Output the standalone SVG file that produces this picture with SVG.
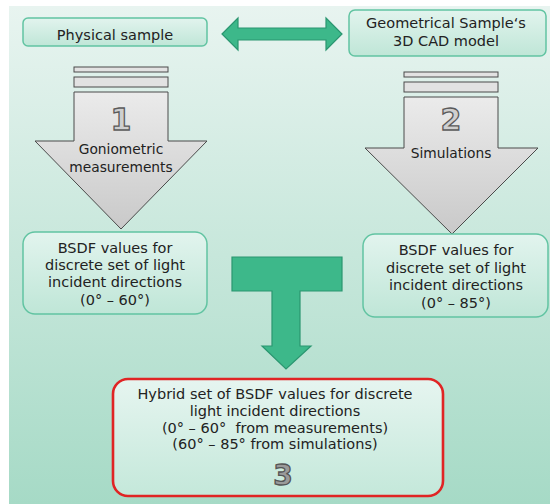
<svg xmlns="http://www.w3.org/2000/svg" width="550" height="504" viewBox="0 0 550 504">
<style>
text{font-family:"DejaVu Sans","Verdana",sans-serif;fill:#222;text-anchor:middle}
.t{font-size:14.5px}
.s{font-size:13.8px}
.box{fill:url(#boxg);stroke:#62c4a2;stroke-width:1.5}
.gr{fill:url(#grayg);stroke:#4a4a4a;stroke-width:1}
.bar{fill:#e2e2e2;stroke:#4a4a4a;stroke-width:1}
.green{fill:#3db88a;stroke:#2a9670;stroke-width:1.2}
.num{font-size:30px;font-weight:bold;fill:#cfcfcf;stroke:#5a5a5a;stroke-width:1.3}
</style>
<defs>
<linearGradient id="bg" x1="0" y1="0" x2="0" y2="1">
<stop offset="0" stop-color="#e8f4f0"/>
<stop offset="1" stop-color="#a6dac6"/>
</linearGradient>
<linearGradient id="boxg" x1="0" y1="0" x2="0" y2="1">
<stop offset="0" stop-color="#e2f4ee"/>
<stop offset="1" stop-color="#bfe6d7"/>
</linearGradient>
<linearGradient id="hyb" x1="0" y1="0" x2="0" y2="1">
<stop offset="0" stop-color="#e6f5f0"/>
<stop offset="1" stop-color="#c4e8da"/>
</linearGradient>
<linearGradient id="grayg" x1="0" y1="0" x2="0" y2="1">
<stop offset="0" stop-color="#ebebeb"/>
<stop offset="1" stop-color="#c9c9c9"/>
</linearGradient>
</defs>
<rect x="0" y="0" width="550" height="504" fill="#ffffff"/>
<rect x="9" y="6" width="541" height="498" fill="url(#bg)"/>

<g id="connectors">
<polygon class="green" points="222,34 238,18 238,28 326,28 326,18 342,34 326,50 326,40 238,40 238,50"/>
<polygon class="green" points="232,257 342,257 342,291 300,291 300,346 311,346 286,369 262,346 272,346 272,291 232,291"/>
</g>

<g id="physical">
<rect class="box" x="23" y="18" width="184" height="28" rx="5"/>
<text class="t" x="115" y="39.5">Physical sample</text>
</g>

<g id="cad">
<rect class="box" x="349" y="10" width="197" height="46" rx="6"/>
<text class="t" x="446" y="28">Geometrical Sample‘s</text>
<text class="t" x="446" y="46">3D CAD model</text>
</g>

<g id="arrow1">
<rect class="bar" x="74" y="67" width="94" height="5"/>
<rect class="bar" x="74" y="77" width="94" height="10"/>
<polygon class="gr" points="74,92 168,92 168,141 207,141 121,229 35,141 74,141"/>
<text class="num" x="121" y="130">1</text>
<text class="s" x="121" y="154">Goniometric</text>
<text class="s" x="121" y="172">measurements</text>
</g>

<g id="arrow2">
<rect class="bar" x="404" y="72" width="94" height="5"/>
<rect class="bar" x="404" y="82" width="94" height="10"/>
<polygon class="gr" points="404,97 498,97 498,148 538,148 452,234 365,148 404,148"/>
<text class="num" x="451" y="130">2</text>
<text class="s" x="451" y="158">Simulations</text>
</g>

<g id="bsdf1">
<rect class="box" x="23" y="232" width="184" height="82" rx="12"/>
<text class="t" x="115" y="253">BSDF values for</text>
<text class="t" x="115" y="270">discrete set of light</text>
<text class="t" x="115" y="287">incident directions</text>
<text class="t" x="115" y="305">(0° – 60°)</text>
</g>

<g id="bsdf2">
<rect class="box" x="363" y="234" width="185" height="83" rx="12"/>
<text class="t" x="456" y="255">BSDF values for</text>
<text class="t" x="456" y="273">discrete set of light</text>
<text class="t" x="456" y="290">incident directions</text>
<text class="t" x="456" y="308">(0° – 85°)</text>
</g>

<g id="hybrid">
<rect x="113" y="379" width="330" height="117" rx="15" fill="url(#hyb)" stroke="#e02424" stroke-width="2.6"/>
<text class="t" x="275" y="399">Hybrid set of BSDF values for discrete</text>
<text class="t" x="275" y="416">light incident directions</text>
<text class="t" x="275" y="433" xml:space="preserve">(0° – 60°  from measurements)</text>
<text class="t" x="275" y="449">(60° – 85° from simulations)</text>
<text class="num" x="283" y="485" style="font-size:28px;fill:#9a9a9a;stroke:#555">3</text>
</g>
</svg>
